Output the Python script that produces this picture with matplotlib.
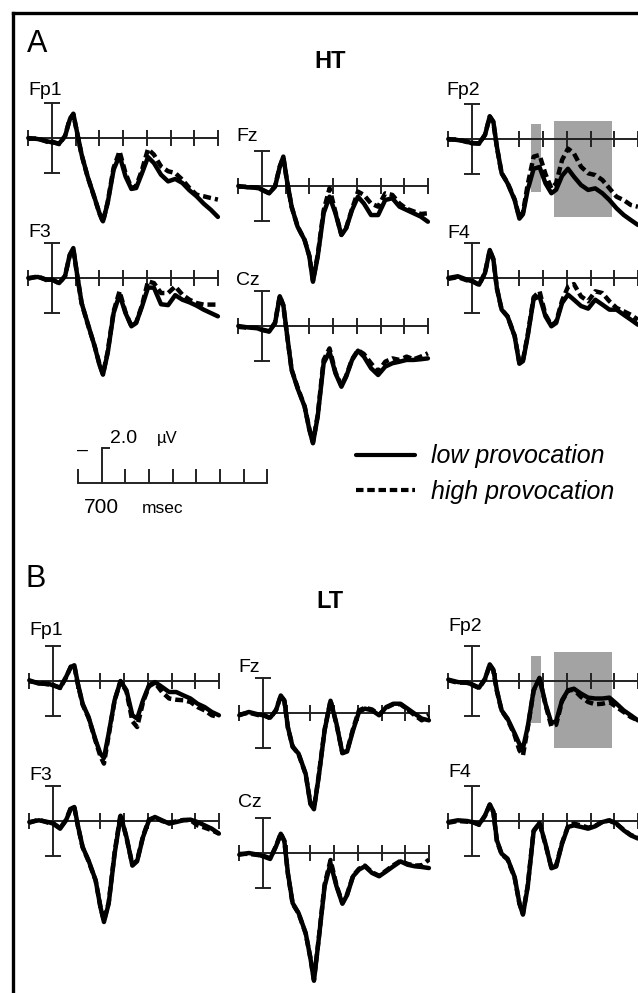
"""ERP waveforms, HT vs LT groups, low vs high provocation."""
import matplotlib
matplotlib.use("Agg")
import matplotlib.pyplot as plt
from matplotlib.lines import Line2D
from matplotlib.patches import Rectangle

W, H, DPI = 638, 993, 100

# ---- data (µV, negative plotted up) ----
TIME_MS = [-100, -60, -20, 0, 30, 55, 75, 90, 105, 125, 150, 180, 200, 215, 235, 260,
           285, 310, 335, 355, 380, 405, 430, 460, 490, 520, 550, 580, 610, 640, 670, 700]
ELECTRODES = ["Fp1", "F3", "Fz", "Cz", "Fp2", "F4"]
GROUPS = ["HT", "LT"]
CONDITIONS = ["low provocation", "high provocation"]
TICKS_MS = [-100, 100, 200, 300, 400, 500, 600, 700]
BAR_UV = 2.0
SCALE_LABEL_UV = "2.0"
SCALE_LABEL_MS = "700"

HT_FP1_LOW = [0, 0.06, 0.19, 0.25, 0.32, -0.1, -1.05, -1.39, -0.38, 0.95, 2.19, 3.43, 4.29, 4.76, 3.71, 1.81,
              1.0, 2.19, 2.91, 2.86, 2.0, 1.09, 1.43, 2.1, 2.48, 2.34, 2.57, 2.99, 3.33, 3.75, 4.1, 4.51]
HT_FP1_HIGH = [0.05, 0.02, 0.22, 0.2, 0.35, -0.12, -1.1, -1.35, -0.35, 0.98, 2.2, 3.45, 4.3, 4.8, 3.65, 1.7,
               0.76, 2.0, 2.86, 2.76, 1.81, 0.63, 0.95, 1.62, 1.9, 2.0, 2.38, 2.86, 3.24, 3.33, 3.43, 3.52]
HT_F3_LOW = [0, -0.06, 0.1, 0.1, 0.29, -0.1, -1.33, -1.71, -0.29, 1.43, 2.57, 3.9, 4.95, 5.52, 4.29, 2.0,
             0.95, 2.0, 2.76, 2.57, 1.62, 0.55, 0.55, 1.5, 1.55, 0.98, 1.24, 1.39, 1.58, 1.81, 2.0, 2.19]
HT_F3_HIGH = [0.04, -0.1, 0.14, 0.08, 0.3, -0.12, -1.3, -1.65, -0.25, 1.45, 2.6, 3.9, 4.9, 5.5, 4.2, 1.9,
              0.76, 1.95, 2.75, 2.55, 1.55, 0.19, 0.29, 0.86, 0.86, 0.48, 0.95, 1.24, 1.43, 1.52, 1.52, 1.52]
HT_FZ_LOW = [0, 0.08, 0.08, 0.23, 0.42, 0.04, -1.1, -1.68, -0.34, 1.18, 2.32, 3.09, 4.04, 5.47, 4.04, 1.56,
             0.61, 1.56, 2.8, 2.42, 1.37, 0.61, 1.0, 1.66, 1.66, 0.8, 0.7, 1.18, 1.37, 1.56, 1.75, 2.04]
HT_FZ_HIGH = [0.04, 0.04, 0.12, 0.2, 0.4, 0.02, -1.12, -1.64, -0.3, 1.2, 2.3, 3.1, 4.0, 5.4, 3.95, 1.4,
              0.13, 1.5, 2.78, 2.4, 1.3, 0.32, 0.51, 1.0, 1.18, 0.42, 0.51, 1.0, 1.3, 1.45, 1.6, 1.56]
HT_CZ_LOW = [0, 0.08, 0.13, 0.23, 0.32, -0.15, -1.7, -1.2, 0.42, 2.51, 3.56, 4.61, 5.94, 6.7, 5.18, 2.13,
             1.47, 2.7, 3.47, 2.9, 1.94, 1.41, 1.75, 2.41, 2.8, 2.32, 2.13, 2.04, 1.94, 1.94, 1.9, 1.85]
HT_CZ_HIGH = [0.05, 0.1, 0.1, 0.2, 0.3, -0.2, -1.72, -1.15, 0.45, 2.5, 3.5, 4.6, 5.9, 6.65, 5.1, 1.94,
              1.28, 2.65, 3.4, 2.85, 1.9, 1.38, 1.6, 2.13, 2.61, 2.04, 1.85, 1.94, 1.75, 1.9, 1.75, 1.56]
HT_FP2_LOW = [0, 0.06, 0.15, 0.25, 0.25, -0.23, -1.3, -1.0, 0.44, 1.96, 2.53, 3.49, 4.55, 4.3, 2.91, 1.7,
              1.6, 2.53, 3.1, 2.9, 2.1, 1.7, 2.15, 2.63, 2.91, 2.82, 3.1, 3.49, 3.96, 4.34, 4.63, 4.91]
HT_FP2_HIGH = [0.04, 0.02, 0.18, 0.22, 0.27, -0.25, -1.28, -0.95, 0.48, 1.95, 2.5, 3.45, 4.5, 4.2, 2.6, 1.01,
               0.91, 2.0, 2.82, 2.53, 1.2, 0.55, 0.82, 1.58, 1.96, 2.06, 2.34, 2.82, 3.3, 3.49, 3.77, 3.87]
HT_F4_LOW = [0, -0.1, 0.1, 0.19, 0.38, -0.29, -1.6, -1.1, 0.57, 1.81, 2.19, 3.33, 4.9, 4.75, 3.33, 1.2,
             1.05, 2.19, 2.76, 2.57, 1.43, 0.95, 1.24, 1.6, 1.75, 1.24, 1.52, 1.81, 1.81, 2.1, 2.38, 2.67]
HT_F4_HIGH = [0.05, -0.05, 0.14, 0.15, 0.4, -0.3, -1.58, -1.05, 0.6, 1.8, 2.2, 3.3, 4.85, 4.7, 3.25, 1.1,
              0.76, 2.1, 2.7, 2.5, 1.3, 0.5, 0.35, 1.05, 1.33, 0.76, 0.86, 1.33, 1.71, 1.9, 2.1, 2.38]

LT_FP1_LOW = [-0.04, 0.15, 0.15, 0.25, 0.38, -0.23, -0.8, -0.9, 0.15, 1.3, 2.06, 3.39, 4.15, 4.4, 3.0, 1.1,
              0.0, 0.53, 1.96, 2.15, 1.1, 0.25, 0.06, 0.34, 0.63, 0.63, 0.82, 1.0, 1.3, 1.49, 1.77, 1.96]
LT_FP1_HIGH = [0.02, 0.1, 0.2, 0.22, 0.4, -0.2, -0.82, -0.85, 0.2, 1.35, 2.1, 3.45, 4.3, 4.72, 3.1, 1.1,
               0.02, 0.6, 2.3, 2.63, 1.2, 0.3, 0.1, 0.63, 1.0, 1.07, 1.1, 1.2, 1.49, 1.68, 1.96, 2.06]
LT_F3_LOW = [0.06, -0.04, 0.06, 0.15, 0.44, -0.04, -0.7, -0.8, 0.25, 1.49, 2.25, 3.39, 4.91, 5.77, 4.72, 1.87,
             -0.3, 0.91, 2.55, 2.3, 0.91, -0.04, -0.23, -0.04, 0.15, 0.06, -0.04, -0.08, 0.06, 0.25, 0.44, 0.72]
LT_F3_HIGH = [0.1, -0.08, 0.1, 0.12, 0.4, -0.06, -0.75, -0.78, 0.3, 1.5, 2.3, 3.4, 4.9, 5.7, 4.65, 1.8,
              -0.4, 0.95, 2.5, 2.25, 0.85, -0.08, -0.2, 0.0, 0.12, 0.02, -0.06, -0.05, 0.25, 0.38, 0.53, 0.72]
LT_FZ_LOW = [0.13, -0.06, 0.08, 0.13, 0.27, -0.15, -1.0, -0.72, 0.8, 1.94, 2.32, 3.47, 5.2, 5.5, 3.66, 0.99,
             -0.7, 0.61, 2.3, 2.2, 0.99, -0.06, -0.25, -0.15, 0.13, -0.34, -0.53, -0.53, -0.25, 0.04, 0.32, 0.42]
LT_FZ_HIGH = [0.1, -0.02, 0.12, 0.1, 0.3, -0.18, -0.98, -0.7, 0.85, 1.9, 2.35, 3.5, 5.15, 5.45, 3.6, 0.95,
              -0.72, 0.65, 2.28, 2.15, 0.9, -0.15, -0.3, -0.2, 0.1, -0.3, -0.5, -0.5, -0.2, 0.13, 0.42, 0.13]
LT_CZ_LOW = [0.1, 0, 0.1, 0.19, 0.34, -0.38, -1.1, -0.7, 1.14, 2.86, 3.43, 4.57, 6.0, 7.3, 4.95, 1.9,
             0.6, 1.9, 2.9, 2.4, 1.33, 0.95, 0.76, 1.14, 1.33, 1.05, 0.76, 0.48, 0.67, 0.76, 0.8, 0.86]
LT_CZ_HIGH = [0.05, 0.05, 0.12, 0.15, 0.3, -0.4, -1.12, -0.68, 1.2, 2.9, 3.45, 4.6, 6.0, 7.25, 4.9, 1.8,
              0.4, 1.85, 2.85, 2.35, 1.3, 0.9, 0.72, 1.1, 1.3, 1.0, 0.7, 0.45, 0.62, 0.72, 0.7, 0.38]
LT_FP2_LOW = [-0.08, 0.06, 0.11, 0.19, 0.38, -0.13, -0.95, -0.65, 0.53, 1.68, 2.15, 3.0, 3.6, 3.85, 2.63, 0.53,
              -0.18, 1.3, 2.4, 2.3, 1.1, 0.53, 0.44, 0.72, 0.95, 1.0, 1.0, 0.95, 1.3, 1.68, 1.96, 2.25]
LT_FP2_HIGH = [-0.04, 0.1, 0.08, 0.22, 0.4, -0.1, -0.92, -0.6, 0.58, 1.7, 2.2, 3.1, 3.96, 4.25, 2.7, 0.55,
               -0.15, 1.35, 2.6, 2.5, 1.15, 0.55, 0.5, 0.91, 1.2, 1.33, 1.3, 1.2, 1.49, 1.77, 2.06, 2.25]
LT_F4_LOW = [0.06, -0.04, 0, 0.06, 0.19, -0.32, -0.95, -0.55, 1.1, 1.87, 2.15, 3.2, 4.7, 5.35, 3.77, 0.6,
             0.1, 1.3, 2.7, 2.6, 1.3, 0.34, 0.25, 0.34, 0.44, 0.3, 0.06, -0.04, 0.15, 0.53, 0.82, 1.0]
LT_F4_HIGH = [0.1, 0.0, 0.04, 0.04, 0.22, -0.3, -0.92, -0.5, 1.15, 1.9, 2.2, 3.25, 4.72, 5.3, 3.7, 0.55,
              0.12, 1.35, 2.65, 2.55, 1.25, 0.3, 0.15, 0.25, 0.38, 0.28, 0.04, -0.02, 0.18, 0.5, 0.8, 0.95]

# shaded analysis windows on Fp2
WINDOW_EARLY_MS = [250, 290]
WINDOW_LATE_MS = [345, 590]
HT_WINDOW_EARLY_UV = [-0.86, 3.03]
HT_WINDOW_LATE_UV = [-1.03, 4.46]
LT_WINDOW_EARLY_UV = [-1.43, 2.4]
LT_WINDOW_LATE_UV = [-1.66, 3.83]

CURVES = {
    ("HT", "Fp1"): (HT_FP1_LOW, HT_FP1_HIGH), ("HT", "F3"): (HT_F3_LOW, HT_F3_HIGH),
    ("HT", "Fz"): (HT_FZ_LOW, HT_FZ_HIGH), ("HT", "Cz"): (HT_CZ_LOW, HT_CZ_HIGH),
    ("HT", "Fp2"): (HT_FP2_LOW, HT_FP2_HIGH), ("HT", "F4"): (HT_F4_LOW, HT_F4_HIGH),
    ("LT", "Fp1"): (LT_FP1_LOW, LT_FP1_HIGH), ("LT", "F3"): (LT_F3_LOW, LT_F3_HIGH),
    ("LT", "Fz"): (LT_FZ_LOW, LT_FZ_HIGH), ("LT", "Cz"): (LT_CZ_LOW, LT_CZ_HIGH),
    ("LT", "Fp2"): (LT_FP2_LOW, LT_FP2_HIGH), ("LT", "F4"): (LT_F4_LOW, LT_F4_HIGH),
}
WINDOWS = {
    "HT": (HT_WINDOW_EARLY_UV, HT_WINDOW_LATE_UV),
    "LT": (LT_WINDOW_EARLY_UV, LT_WINDOW_LATE_UV),
}

# ---- layout (pixels) ----
PX_PER_MS = 0.237
PX_PER_UV = 17.5
# electrode -> (bar x, baseline y, label x, label baseline) per group
LAYOUT = {
    "HT": {"Fp1": (52, 138, 28, 95), "F3": (52, 278, 28, 237),
           "Fz": (262, 186, 236, 141), "Cz": (262, 326, 236, 285),
           "Fp2": (472, 139, 446, 95), "F4": (472, 278, 447, 238)},
    "LT": {"Fp1": (53, 681, 29, 635), "F3": (53, 821, 29, 780),
           "Fz": (263, 713, 238, 672), "Cz": (263, 853, 238, 807),
           "Fp2": (472, 681, 448, 631), "F4": (472, 821, 448, 777)},
}
LINE_CLR = "black"
AXIS_CLR = "#222222"
BOX_CLR = "#a3a3a3"
FONT = "Liberation Sans"
WAVE_LW = 3.2


def fx(x):
    return x / W


def fy(y):
    return 1 - y / H


def add_axes_px(fig, bar_x, base_y, t_lim=(-115, 715), v_lim=(-3.0, 8.5)):
    left = bar_x + t_lim[0] * PX_PER_MS
    width = (t_lim[1] - t_lim[0]) * PX_PER_MS
    top = base_y + v_lim[0] * PX_PER_UV
    height = (v_lim[1] - v_lim[0]) * PX_PER_UV
    ax = fig.add_axes([fx(left), fy(top + height), width / W, height / H])
    ax.set_xlim(*t_lim)
    ax.set_ylim(v_lim[1], v_lim[0])  # negative up
    ax.patch.set_visible(False)
    for s in ("top", "right"):
        ax.spines[s].set_visible(False)
    for s in ("bottom", "left"):
        ax.spines[s].set_position(("data", 0))
        ax.spines[s].set_linewidth(1.4)
        ax.spines[s].set_color(AXIS_CLR)
    ax.tick_params(labelbottom=False, labelleft=False, color=AXIS_CLR, width=1.4)
    return ax


def draw_panel(fig, group, elec):
    bar_x, base_y, lab_x, lab_y = LAYOUT[group][elec]
    ax = add_axes_px(fig, bar_x, base_y)
    ax.spines["bottom"].set_bounds(TICKS_MS[0], TICKS_MS[-1])
    ax.spines["left"].set_bounds(-BAR_UV, BAR_UV)
    ax.set_xticks(TICKS_MS)
    ax.set_yticks([-BAR_UV, BAR_UV])
    ax.tick_params(axis="x", direction="inout", length=12)
    ax.tick_params(axis="y", direction="inout", length=11)

    if elec == "Fp2":
        for win_ms, win_uv in zip((WINDOW_EARLY_MS, WINDOW_LATE_MS), WINDOWS[group]):
            ax.add_patch(Rectangle((win_ms[0], win_uv[0]), win_ms[1] - win_ms[0], win_uv[1] - win_uv[0],
                                   facecolor=BOX_CLR, edgecolor="none", zorder=1))

    low, high = CURVES[(group, elec)]
    h_line, = ax.plot(TIME_MS, high, color=LINE_CLR, lw=WAVE_LW, ls=(0, (1.8, 0.9)),
                      dash_capstyle="butt", zorder=3, clip_on=False)
    l_line, = ax.plot(TIME_MS, low, color=LINE_CLR, lw=WAVE_LW, solid_joinstyle="round",
                      solid_capstyle="round", zorder=4, clip_on=False)
    fig.text(fx(lab_x), fy(lab_y), elec, ha="left", va="baseline", fontsize=14, family=FONT)
    return l_line, h_line


def main():
    fig = plt.figure(figsize=(W / DPI, H / DPI), dpi=DPI)
    fig.patch.set_facecolor("white")

    # outer frame (right and bottom edges fall outside the image)
    fig.add_artist(Line2D([fx(13), fx(637)], [fy(13), fy(13)], color="black", lw=2.4))
    fig.add_artist(Line2D([fx(13), fx(13)], [fy(13), fy(995)], color="black", lw=2.4))

    handles = None
    for group in GROUPS:
        for elec in ELECTRODES:
            lines = draw_panel(fig, group, elec)
            handles = handles or lines

    fig.text(fx(27), fy(52), "A", ha="left", va="baseline", fontsize=22, family=FONT)
    fig.text(fx(26), fy(587), "B", ha="left", va="baseline", fontsize=22, family=FONT)
    fig.text(fx(330), fy(62), GROUPS[0], ha="center", va="center", fontsize=17, fontweight="bold", family=FONT)
    fig.text(fx(330), fy(601), GROUPS[1], ha="center", va="center", fontsize=17, fontweight="bold", family=FONT)

    # calibration: 2.0 µV / 700 msec
    cal = add_axes_px(fig, 101.5, 483)
    cal.spines["bottom"].set_bounds(TICKS_MS[0], TICKS_MS[-1])
    cal.spines["left"].set_bounds(-BAR_UV, 0)
    cal.set_xticks(TICKS_MS)
    cal.set_yticks([-BAR_UV])
    cal.tick_params(axis="x", direction="in", length=10)
    cal.tick_params(axis="y", direction="in", length=6)
    fig.text(fx(77), fy(450), "–", ha="left", va="center", fontsize=14, family=FONT)
    fig.text(fx(110), fy(443), SCALE_LABEL_UV, ha="left", va="baseline", fontsize=14, family=FONT)
    fig.text(fx(157), fy(443), "µV", ha="left", va="baseline", fontsize=12, family=FONT)
    fig.text(fx(84), fy(513), SCALE_LABEL_MS, ha="left", va="baseline", fontsize=15, family=FONT)
    fig.text(fx(142), fy(513), "msec", ha="left", va="baseline", fontsize=12.5, family=FONT)

    leg = fig.legend(handles, CONDITIONS, loc="center left", bbox_to_anchor=(fx(356), fy(474)),
                     frameon=False, borderpad=0, borderaxespad=0, handlelength=2.35,
                     handletextpad=0.65, labelspacing=0.45,
                     prop={"family": FONT, "style": "italic", "size": 18})
    for ln in leg.get_lines():
        ln.set_linewidth(3.0)

    fig.savefig("out.png", dpi=DPI, facecolor="white")


if __name__ == "__main__":
    main()
